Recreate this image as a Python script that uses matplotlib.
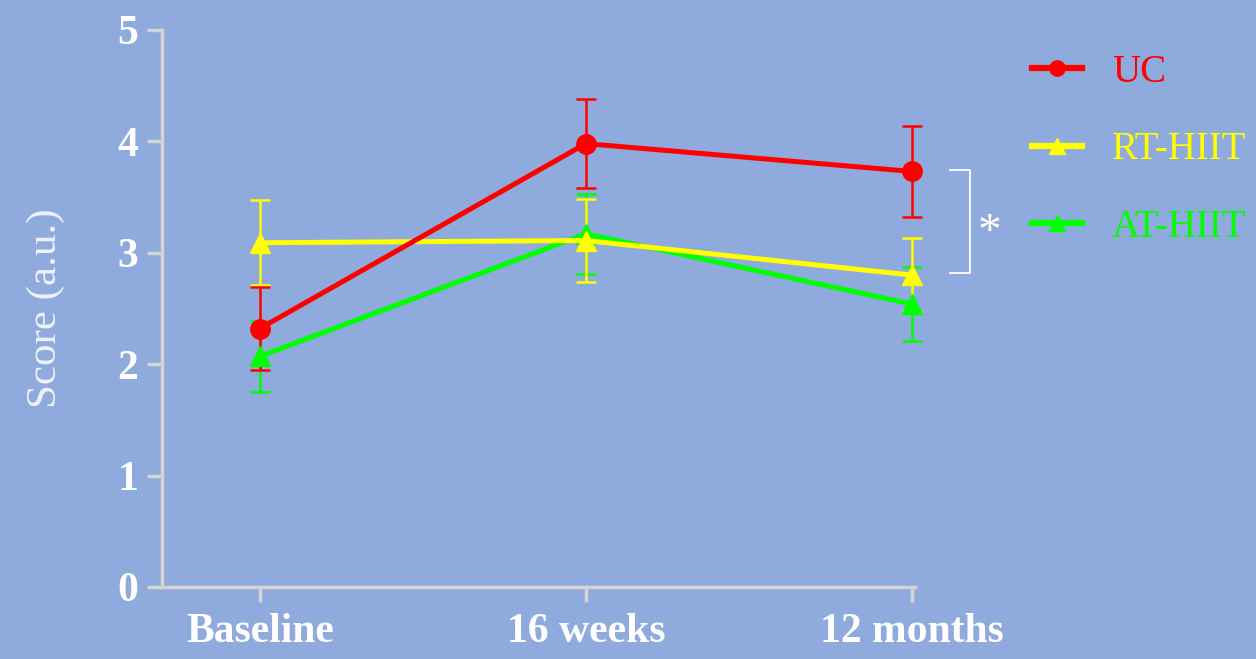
import numpy as np
import matplotlib
matplotlib.use("Agg")
import matplotlib.pyplot as plt
from matplotlib.lines import Line2D

# data
timepoints = ["Baseline", "16 weeks", "12 months"]
uc_mean = [2.32, 3.98, 3.73]
uc_err = [0.37, 0.40, 0.41]
rt_mean = [3.09, 3.11, 2.80]
rt_err = [0.38, 0.37, 0.33]
at_mean = [2.07, 3.17, 2.54]
at_err = [0.32, 0.36, 0.33]
y_ticks = [0, 1, 2, 3, 4, 5]

bg = "#8FAADC"
spine_col = "#D4D4D4"

plt.rcParams["font.family"] = ["Liberation Serif", "DejaVu Serif"]

fig = plt.figure(figsize=(12.56, 6.59), dpi=100, facecolor=bg)
ax = fig.add_axes([0.129, 0.1093, 0.5995, 0.8452])
ax.set_facecolor(bg)

x = np.arange(len(timepoints))

series = [
    ("AT-HIIT", at_mean, at_err, "#00FF00", "^"),
    ("RT-HIIT", rt_mean, rt_err, "#FFFF00", "^"),
    ("UC", uc_mean, uc_err, "#FF0000", "o"),
]
handles = {}
for name, m, e, c, mk in series:
    ax.errorbar(x, m, yerr=e, color=c, marker=mk, markersize=14,
                linewidth=3.6, elinewidth=1.8, capsize=7, capthick=1.8,
                clip_on=False)
    handles[name] = Line2D([], [], color=c, marker=mk, markersize=11,
                           linewidth=4.5)

ax.set_xlim(-0.3, 2.01)
ax.set_ylim(0, 5)
ax.set_xticks(x)
ax.set_xticklabels(timepoints)
ax.set_yticks(y_ticks)

for s in ["top", "right"]:
    ax.spines[s].set_visible(False)
for s in ["left", "bottom"]:
    ax.spines[s].set_color(spine_col)
    ax.spines[s].set_linewidth(2.5)

ax.tick_params(axis="both", colors=spine_col, width=2.5, length=11)
for lab in ax.get_xticklabels() + ax.get_yticklabels():
    lab.set_color("white")
    lab.set_fontweight("bold")
    lab.set_fontsize(30)
ax.tick_params(axis="y", pad=6)
ax.tick_params(axis="x", pad=8)

ax.set_ylabel("Score (a.u.)", color="#EEF2FA", fontsize=31, labelpad=38)

# significance bracket between UC and RT-HIIT at 12 months
bx = [2.117, 2.178, 2.178, 2.117]
by = [3.74, 3.74, 2.82, 2.82]
ax.plot(bx, by, color="white", linewidth=1.3, clip_on=False)
ax.text(2.24, 3.17, "*", color="white", fontsize=34, ha="center", va="center")

leg = fig.legend([handles["UC"], handles["RT-HIIT"], handles["AT-HIIT"]],
                 ["UC", "RT-HIIT", "AT-HIIT"],
                 loc="upper left", bbox_to_anchor=(0.8065, 0.948),
                 frameon=False, fontsize=28, handlelength=1.27,
                 handletextpad=0.77, labelspacing=1.04, borderpad=0)
for txt, c in zip(leg.get_texts(), ["#FF0000", "#FFFF00", "#00FF00"]):
    txt.set_color(c)

fig.savefig("out.png", dpi=100, facecolor=bg)
